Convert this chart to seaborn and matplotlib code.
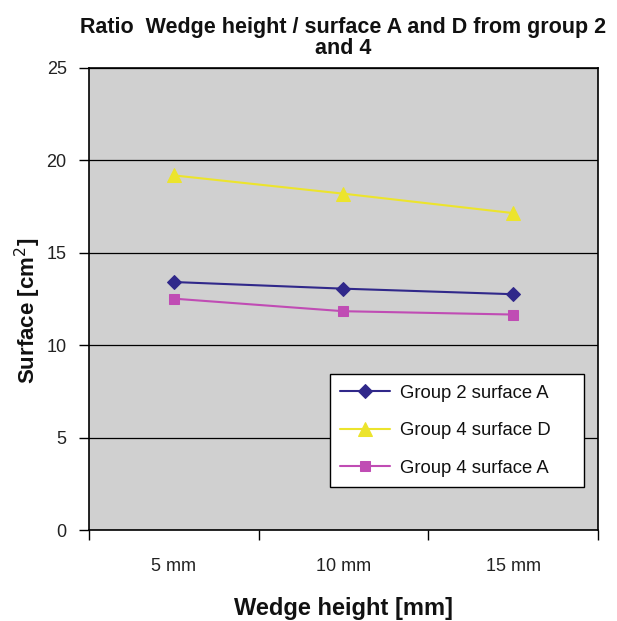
import matplotlib
matplotlib.use('Agg')
import matplotlib.pyplot as plt
import seaborn as sns
import pandas as pd
from matplotlib.ticker import FixedLocator

categories = ['5 mm', '10 mm', '15 mm']
group2_surface_a = [13.42, 13.06, 12.76]
group4_surface_d = [19.19, 18.20, 17.15]
group4_surface_a = [12.52, 11.84, 11.66]

series_names = ['Group 2 surface A', 'Group 4 surface D', 'Group 4 surface A']
colors = ['#30288a', '#ece42c', '#c04cb4']
markers = ['D', '^', 's']
msizes = [7, 10, 7.5]

sns.set_theme(style='white')
plt.rcParams['font.family'] = ['Liberation Sans', 'DejaVu Sans']
plt.rcParams['text.color'] = '#111111'
plt.rcParams['axes.labelcolor'] = '#111111'

fig = plt.figure(figsize=(6.17, 6.21), dpi=100)
ax = fig.add_axes([0.144, 0.1465, 0.825, 0.744])
ax.set_facecolor('#d0d0d0')

pos = list(range(len(categories)))
for name, vals, c, m, ms in zip(series_names,
                                [group2_surface_a, group4_surface_d, group4_surface_a],
                                colors, markers, msizes):
    df = pd.DataFrame({'x': pos, 'y': vals})
    sns.lineplot(data=df, x='x', y='y', ax=ax, color=c, marker=m, markersize=ms,
                 markeredgecolor=c, linewidth=1.5, label=name)

ax.set_xlim(-0.5, len(categories) - 0.5)
ax.set_ylim(0, 25)
ax.set_yticks([0, 5, 10, 15, 20, 25])
ax.yaxis.grid(True, color='black', linewidth=0.9)
ax.xaxis.grid(False)
for s in ax.spines.values():
    s.set_color('black')
    s.set_linewidth(1.2)

ax.xaxis.set_major_locator(FixedLocator([-0.5, 0.5, 1.5, 2.5]))
ax.set_xticklabels([])
ax.xaxis.set_minor_locator(FixedLocator(pos))
ax.set_xticklabels(categories, minor=True)
ax.tick_params(axis='x', which='major', direction='out', length=7, color='black', width=1)
ax.tick_params(axis='x', which='minor', length=0, pad=20, labelsize=13, labelcolor='#222222')
ax.tick_params(axis='y', direction='out', length=7, color='black', width=1, labelsize=13,
               labelcolor='#222222', pad=9)
ax.tick_params(bottom=True, left=True)

ax.set_xlabel('Wedge height [mm]', fontsize=17, fontweight='bold', labelpad=16)
ax.set_ylabel('Surface [cm$^2$]', fontsize=16, fontweight='bold')
ax.yaxis.set_label_coords(-0.09, 0.474)
ax.set_title('Ratio  Wedge height / surface A and D from group 2\nand 4',
             fontsize=15.5, fontweight='bold', linespacing=1.0, pad=10)

leg = ax.legend(loc='lower left', bbox_to_anchor=(0.474, 0.093, 0.498, 0.242), mode='expand',
                frameon=True, fancybox=False, fontsize=13.3, labelspacing=1.12,
                borderpad=0.55, handlelength=2.7, handletextpad=0.55, borderaxespad=0)
leg.get_frame().set_edgecolor('black')
leg.get_frame().set_linewidth(1.0)
leg.get_frame().set_facecolor('white')
leg.get_frame().set_alpha(1)

fig.savefig('out.png', dpi=100)
